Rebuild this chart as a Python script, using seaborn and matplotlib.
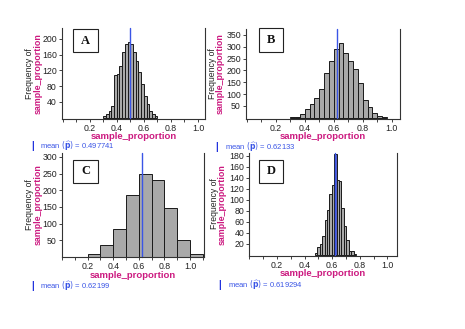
import numpy as np
import pandas as pd
import seaborn as sns
import matplotlib
matplotlib.use("Agg")
import matplotlib.pyplot as plt
from matplotlib.ticker import MultipleLocator

sns.set_theme(style="white")
plt.rcParams['font.family'] = ['Liberation Sans', 'DejaVu Sans']

# ---- data ----
a_counts = [4, 8, 17, 30, 108, 110, 132, 166, 187, 193, 187, 166, 145, 115, 85, 55, 34, 17, 8, 4]
a_start, a_width = 0.30, 0.02
a_mean = 0.497741

b_counts = [2, 5, 15, 36, 58, 82, 120, 188, 241, 289, 314, 272, 240, 205, 148, 75, 44, 19, 8, 3]
b_start, b_width = 0.30, 1 / 30
b_mean = 0.62133

c_counts = [9, 34, 83, 185, 249, 230, 147, 50, 9]
c_start, c_width = 0.2, 0.1
c_mean = 0.62199

d_counts = [3, 15, 20, 35, 64, 82, 111, 128, 184, 136, 134, 85, 53, 27, 8, 7, 2]
d_start, d_width = 0.475, 0.0175
d_mean = 0.619294

letters = ["A", "B", "C", "D"]
x_label = "sample_proportion"
y_label_top = "Frequency of"

W, H = 465, 329
fig = plt.figure(figsize=(W / 100, H / 100), dpi=100)
fig.patch.set_facecolor("white")

MAG = "#cc1a80"
BLUE = "#3a55e6"
GRAY = "#a9a9a9"

panels = [
    dict(counts=a_counts, start=a_start, width=a_width, mean=a_mean, letter="A",
         box=(62, 205, 28, 118.7), xlim=(-0.005, 1.052), ylim=(-3, 228), ymaj=40,
         lbox=(73, 29, 25, 23), ylab_x=(30, 38), xlab_y=137, mean_y=146, mean_x=(33, 40), hi=False),
    dict(counts=b_counts, start=b_start, width=b_width, mean=b_mean, letter="B",
         box=(246, 400, 29.3, 118.7), xlim=(-0.005, 1.057), ylim=(-4, 374), ymaj=50,
         lbox=(259, 28, 24, 24), ylab_x=(212, 220), xlab_y=137, mean_y=147, mean_x=(217, 225), hi=False),
    dict(counts=c_counts, start=c_start, width=c_width, mean=c_mean, letter="C",
         box=(62, 204, 153, 256.8), xlim=(0.0, 1.109), ylim=(0, 312), ymaj=50,
         lbox=(73, 160, 25, 23), ylab_x=(30, 38), xlab_y=275, mean_y=286, mean_x=(33, 40), hi=False),
    dict(counts=d_counts, start=d_start, width=d_width, mean=d_mean, letter="D",
         box=(249.3, 396.7, 152.7, 255.5), xlim=(0.0, 1.068), ylim=(-1, 186), ymaj=20,
         lbox=(259, 160, 24, 23), ylab_x=(214, 222), xlab_y=274, mean_y=285, mean_x=(220, 228), hi=True),
]

for p in panels:
    l, r, t, b = p["box"]
    ax = fig.add_axes([l / W, 1 - b / H, (r - l) / W, (b - t) / H])
    counts = [float(c) for c in p["counts"]]
    n = len(counts)
    edges = [p["start"] + p["width"] * i for i in range(n + 1)]
    centers = [(edges[i] + edges[i + 1]) / 2 for i in range(n)]
    df = pd.DataFrame({"x": centers, "w": counts})
    sns.histplot(data=df, x="x", weights="w", bins=edges, ax=ax,
                 color=GRAY, alpha=1, edgecolor="#1a1a1a", linewidth=0.7)
    if p["hi"]:
        for patch in ax.patches:
            x0 = patch.get_x()
            if x0 <= p["mean"] < x0 + patch.get_width():
                patch.set_facecolor("#5a63c8")
    ax.axvline(p["mean"], color=BLUE, lw=1.0, ymax=1.0, clip_on=False)
    ax.set_xlim(*p["xlim"])
    ax.set_ylim(*p["ylim"])
    ax.xaxis.set_minor_locator(MultipleLocator(0.1))
    ax.set_xticks([0.2, 0.4, 0.6, 0.8, 1.0])
    ax.set_yticks([float(v) for v in np.arange(p["ymaj"], p["ylim"][1], p["ymaj"])])
    ax.set_xticklabels(["0.2", "0.4", "0.6", "0.8", "1.0"])
    ax.tick_params(axis="both", which="major", labelsize=6.3, length=2.5, width=0.6,
                   colors="#222222", pad=1.2, direction="out")
    ax.tick_params(axis="x", which="minor", length=2.5, width=0.6, colors="#222222")
    ax.tick_params(bottom=True, left=True, which="both")
    ax.tick_params(axis="y", which="minor", left=False)
    for s in ["left", "bottom", "right"]:
        ax.spines[s].set_visible(True)
        ax.spines[s].set_color("#333333")
        ax.spines[s].set_linewidth(0.8)
    ax.spines["top"].set_visible(False)
    ax.set_xlabel("")
    ax.set_ylabel("")
    ax.set_facecolor("white")

    # x label
    fig.text((l + r) / 2 / W, 1 - p["xlab_y"] / H, x_label, color=MAG, fontsize=6.8,
             fontweight="bold", ha="center", va="center")
    # y labels
    cy = (t + b) / 2
    fig.text(p["ylab_x"][0] / W, 1 - cy / H, y_label_top, color="#222222", fontsize=6.2,
             rotation=90, ha="center", va="center")
    fig.text(p["ylab_x"][1] / W, 1 - cy / H, x_label, color=MAG, fontsize=6.4,
             fontweight="bold", rotation=90, ha="center", va="center")
    # letter box
    bx, by, bw, bh = p["lbox"]
    fig.text((bx + bw / 2) / W, 1 - (by + bh / 2) / H, p["letter"],
             family=["Liberation Serif", "DejaVu Serif"], fontweight="bold", fontsize=9,
             ha="center", va="center", color="#111111")
    rect = plt.Rectangle((bx / W, 1 - (by + bh) / H), bw / W, bh / H, transform=fig.transFigure,
                         fill=False, ec="#222222", lw=0.8)
    fig.add_artist(rect)
    # mean text
    fig.text(p["mean_x"][0] / W, 1 - p["mean_y"] / H, "|", color="#2233dd", fontsize=7,
             fontweight="bold", ha="center", va="center")
    fig.text(p["mean_x"][1] / W, 1 - p["mean_y"] / H,
             r"mean $(\widehat{\mathbf{p}})$ = " + f"{p['mean']:g}",
             color=BLUE, fontsize=5.5, ha="left", va="center")

fig.savefig("out.png", dpi=100, facecolor="white")
